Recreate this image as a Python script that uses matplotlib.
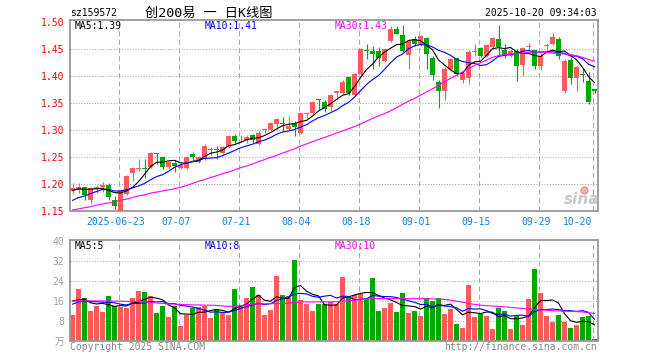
import numpy as np
import pandas as pd
import matplotlib
matplotlib.use('Agg')
import matplotlib.pyplot as plt

plt.rcParams['font.family'] = ['DejaVu Sans Mono', 'Noto Sans CJK SC']

# daily K line, index 0..87 = 2025-06-11 .. 2025-10-20
opens = [1.187, 1.188, 1.194, 1.170, 1.190, 1.194, 1.198, 1.171, 1.150, 1.182,
         1.220, 1.228, 1.230, 1.231, 1.256, 1.250, 1.232, 1.238, 1.230, 1.230,
         1.255, 1.241, 1.247, 1.263, 1.263, 1.258, 1.268, 1.288, 1.284, 1.281,
         1.290, 1.274, 1.299, 1.300, 1.311, 1.313, 1.301, 1.312, 1.294, 1.330,
         1.332, 1.356, 1.351, 1.342, 1.368, 1.369, 1.398, 1.364, 1.403, 1.446,
         1.445, 1.446, 1.428, 1.464, 1.486, 1.476, 1.438, 1.468, 1.457, 1.469,
         1.432, 1.389, 1.372, 1.413, 1.432, 1.393, 1.395, 1.444, 1.452, 1.436,
         1.454, 1.467, 1.448, 1.437, 1.445, 1.419, 1.453, 1.447, 1.418, 1.455,
         1.458, 1.468, 1.372, 1.429, 1.396, 1.403, 1.391, 1.375]
highs = [1.201, 1.201, 1.195, 1.194, 1.198, 1.203, 1.201, 1.177, 1.190, 1.216,
         1.232, 1.246, 1.247, 1.259, 1.257, 1.251, 1.242, 1.245, 1.237, 1.252,
         1.259, 1.251, 1.273, 1.268, 1.270, 1.271, 1.290, 1.292, 1.291, 1.291,
         1.292, 1.297, 1.304, 1.314, 1.321, 1.323, 1.325, 1.317, 1.332, 1.333,
         1.353, 1.357, 1.356, 1.366, 1.372, 1.392, 1.399, 1.405, 1.451, 1.458,
         1.455, 1.454, 1.452, 1.491, 1.492, 1.494, 1.468, 1.474, 1.476, 1.472,
         1.436, 1.393, 1.416, 1.432, 1.435, 1.408, 1.448, 1.458, 1.453, 1.458,
         1.471, 1.494, 1.459, 1.449, 1.450, 1.453, 1.461, 1.448, 1.442, 1.461,
         1.479, 1.471, 1.431, 1.434, 1.419, 1.415, 1.406, 1.376]
lows = [1.183, 1.184, 1.170, 1.163, 1.184, 1.186, 1.170, 1.154, 1.150, 1.180,
        1.205, 1.224, 1.211, 1.230, 1.237, 1.227, 1.227, 1.222, 1.227, 1.227,
        1.243, 1.238, 1.245, 1.254, 1.247, 1.256, 1.267, 1.276, 1.278, 1.276,
        1.276, 1.272, 1.295, 1.299, 1.301, 1.298, 1.300, 1.288, 1.292, 1.321,
        1.330, 1.337, 1.333, 1.335, 1.355, 1.366, 1.365, 1.362, 1.400, 1.430,
        1.413, 1.418, 1.425, 1.463, 1.477, 1.443, 1.413, 1.455, 1.455, 1.413,
        1.392, 1.341, 1.356, 1.408, 1.400, 1.386, 1.385, 1.436, 1.434, 1.434,
        1.452, 1.436, 1.432, 1.435, 1.391, 1.400, 1.447, 1.413, 1.410, 1.444,
        1.456, 1.431, 1.369, 1.384, 1.372, 1.388, 1.348, 1.368]
closes = [1.193, 1.195, 1.180, 1.192, 1.195, 1.198, 1.176, 1.159, 1.188, 1.215,
          1.230, 1.229, 1.228, 1.258, 1.255, 1.232, 1.240, 1.233, 1.235, 1.250,
          1.250, 1.249, 1.270, 1.264, 1.262, 1.268, 1.289, 1.280, 1.285, 1.286,
          1.281, 1.295, 1.300, 1.312, 1.320, 1.311, 1.308, 1.306, 1.331, 1.331,
          1.351, 1.355, 1.339, 1.365, 1.371, 1.389, 1.369, 1.404, 1.450, 1.445,
          1.440, 1.433, 1.450, 1.486, 1.478, 1.446, 1.465, 1.459, 1.474, 1.440,
          1.401, 1.371, 1.413, 1.430, 1.404, 1.405, 1.444, 1.445, 1.436, 1.456,
          1.469, 1.453, 1.437, 1.446, 1.418, 1.451, 1.454, 1.418, 1.437, 1.456,
          1.472, 1.437, 1.427, 1.395, 1.417, 1.402, 1.351, 1.371]
vols = [10.3, 20.7, 17.1, 11.9, 13.9, 11.5, 17.9, 13.9, 13.5, 13.1,
        17.1, 19.9, 19.5, 17.9, 11.1, 13.9, 9.5, 13.9, 5.9, 10.5,
        13.3, 13.7, 14.1, 9.1, 12.7, 11.5, 10.3, 20.7, 14.1, 17.1,
        21.5, 18.3, 10.3, 12.3, 25.9, 18.3, 17.9, 32.3, 16.3, 14.7,
        11.9, 14.7, 14.7, 15.4, 14.9, 25.7, 17.4, 18.4, 18.6, 16.8,
        25.1, 12.0, 13.1, 15.1, 11.5, 19.1, 11.1, 12.0, 10.0, 17.1,
        16.0, 17.1, 10.7, 12.7, 6.7, 5.1, 22.3, 9.6, 10.9, 10.0,
        4.7, 13.1, 12.0, 4.7, 9.8, 6.3, 16.8, 28.7, 19.1, 9.9,
        7.4, 10.5, 7.6, 5.2, 6.5, 9.6, 9.8, 0.9]
# sessions before the window, needed for MA5 / MA10
pre_close = [1.145, 1.148, 1.150, 1.155, 1.160, 1.178, 1.186, 1.190, 1.192]
pre_vol = [12.0, 14.0, 13.0, 15.0, 13.5, 18.0, 16.0, 19.0, 16.2]
# MA30 lines
ma30 = [1.152, 1.154, 1.156, 1.158, 1.161, 1.163, 1.165, 1.167, 1.170,
        1.172, 1.175, 1.178, 1.180, 1.183, 1.185, 1.187, 1.189, 1.191, 1.194,
        1.197, 1.201, 1.205, 1.208, 1.212, 1.215, 1.219, 1.222, 1.226, 1.230,
        1.233, 1.237, 1.241, 1.245, 1.249, 1.253, 1.257, 1.261, 1.265, 1.270,
        1.274, 1.278, 1.282, 1.286, 1.290, 1.294, 1.298, 1.302, 1.306,
        1.311, 1.316, 1.321, 1.326, 1.330, 1.335,
        1.341, 1.347, 1.353, 1.358, 1.364, 1.370,
        1.376, 1.382, 1.389, 1.395, 1.401,
        1.407, 1.413, 1.419, 1.424, 1.429, 1.434,
        1.437, 1.439, 1.440, 1.441, 1.442, 1.443, 1.444,
        1.444, 1.443, 1.442, 1.441, 1.440,
        1.439, 1.437, 1.434, 1.430, 1.427]
vol_ma30 = [15.9, 16.0, 16.0, 16.0, 16.0, 16.0, 16.0, 15.9, 15.9, 15.8, 15.8, 15.7, 15.6,
            15.4, 15.2, 15.0, 14.8, 14.7, 14.6, 14.5, 14.4, 14.4, 14.3, 14.3, 14.2,
            14.0, 13.8, 13.9, 14.1, 14.4, 14.7,
            14.8, 14.8, 14.9, 14.9, 14.9, 15.1, 15.4, 15.6, 15.6, 15.6, 15.6, 15.6, 15.6, 15.7,
            15.9, 16.1, 16.3, 16.5, 16.7, 16.9, 16.9, 16.9, 16.9, 16.9, 16.9, 16.9, 16.9, 16.9,
            16.9, 16.8, 16.7, 16.6, 16.3,
            15.9, 15.5, 15.0, 14.6, 14.3, 14.1, 14.0, 13.8, 13.6, 13.4, 13.2, 13.0, 12.8, 12.6,
            12.4, 12.3, 12.1, 12.0, 11.9, 11.8, 11.7, 11.6, 11.3, 11.0]
date_idx = [8, 18, 28, 38, 48, 58, 68, 78, 87]
date_lbl = ['2025-06-23', '07-07', '07-21', '08-04', '08-18', '09-01', '09-15', '09-29', '10-20']
price_ticks = [1.15, 1.20, 1.25, 1.30, 1.35, 1.40, 1.45, 1.50]
vol_ticks = [0, 8, 16, 24, 32, 40]
vol_tick_lbl = ['万', '8', '16', '24', '32', '40']

RED, GREEN = '#ff5a5a', '#00a800'
GRID = '#aaaaaa'
n = len(closes)
x = np.arange(n)
up = np.array(closes) >= np.array(opens)
colors = np.where(up, RED, GREEN)

c_all = pd.Series(pre_close + closes)
ma5 = c_all.rolling(5).mean().values[9:]
ma10 = c_all.rolling(10).mean().values[9:]
v_all = pd.Series(pre_vol + vols)
vma5 = v_all.rolling(5).mean().values[9:]
vma10 = v_all.rolling(10).mean().values[9:]

W, H = 660, 360
def box(l, t, r, b):
    return [l / W, 1 - b / H, (r - l) / W, (b - t) / H]

fig = plt.figure(figsize=(6.6, 3.6), dpi=100)
ax = fig.add_axes(box(70, 20, 597.5, 211))
axv = fig.add_axes(box(70, 240, 597.5, 341))

for a in (ax, axv):
    a.set_xlim(-0.42, 87.5)
    for s in a.spines.values():
        s.set_color('#999999')
        s.set_linewidth(1.3)
    a.set_xticks([])
    a.tick_params(axis='y', length=0, pad=4, labelsize=7)
    for k in date_idx:
        a.axvline(k - 1 / 3, color=GRID, lw=0.75, ls=(0, (5, 3)), zorder=0)

ax.set_ylim(1.15, 1.503)
ax.set_yticks(price_ticks)
ax.set_yticklabels(['%.2f' % p for p in price_ticks], color='#ff0000')
for p in price_ticks[1:-1]:
    ax.axhline(p, color=GRID, lw=0.75, ls=(0, (1, 1.6)), zorder=0)

axv.set_ylim(0, 40.3)
axv.set_yticks(vol_ticks)
axv.set_yticklabels(vol_tick_lbl, color='#a0a0a0')
for v in vol_ticks[1:-1]:
    axv.axhline(v, color=GRID, lw=0.75, ls=(0, (1, 1.6)), zorder=0)

# candles
body = np.maximum(np.abs(np.array(closes) - np.array(opens)), 0.0018)
bottom = np.minimum(opens, closes)
ax.vlines(x, lows, highs, colors=colors, lw=0.8, zorder=2)
ax.bar(x, body, bottom=bottom, width=0.8, color=colors, lw=0, zorder=3)
ax.plot(x, ma5, color='black', lw=0.8, zorder=4)
ax.plot(x, ma10, color='#0000ff', lw=0.8, zorder=4)
ax.plot(x, ma30, color='#ff00ff', lw=0.8, zorder=4)

axv.bar(x, vols, width=0.8, color=colors, lw=0, zorder=2)
axv.plot(x, vma5, color='black', lw=0.8, zorder=4)
axv.plot(x, vma10, color='#0000ff', lw=0.8, zorder=4)
axv.plot(x, vol_ma30, color='#ff00ff', lw=0.8, zorder=4)

# date labels
for k, lbl in zip(date_idx, date_lbl):
    if k == date_idx[-1]:
        ax.text(k - 0.45, -0.056, lbl, transform=ax.get_xaxis_transform(),
                ha='right', va='center', fontsize=7, color='#0a84d6')
    else:
        ax.text(k - 0.75, -0.056, lbl, transform=ax.get_xaxis_transform(),
                ha='center', va='center', fontsize=7, color='#0a84d6')

def ftext(px, py, s, **kw):
    fig.text(px / W, 1 - py / H, s, va='center', **kw)

ftext(70, 13, 'sz159572', fontsize=7)
ftext(209, 13, '创200易 一 日K线图', fontsize=9.5, ha='center')
ftext(597, 13, '2025-10-20 09:34:03', fontsize=7, ha='right')
ftext(75, 26, 'MA5:1.39', fontsize=7, color='black')
ftext(205, 26, 'MA10:1.41', fontsize=7, color='#0000ff')
ftext(335, 26, 'MA30:1.43', fontsize=7, color='#ff00ff')
ftext(75, 246, 'MA5:5', fontsize=7, color='black')
ftext(205, 246, 'MA10:8', fontsize=7, color='#0000ff')
ftext(335, 246, 'MA30:10', fontsize=7, color='#ff00ff')
ftext(70, 347, 'Copyright 2025 SINA.COM', fontsize=7, color='#888888')
ftext(597, 347, 'http://finance.sina.com.cn', fontsize=7, color='#888888', ha='right')

# sina watermark
ftext(582, 200, 'sina', fontsize=11, color='#c8c8c8', ha='center',
      style='italic', weight='bold', family='DejaVu Sans')
fig.add_artist(plt.Line2D([584 / W], [1 - 190 / H], marker='o', ms=5,
                          mfc='#f6b0b0', mec='#ee8080', mew=0.8))

fig.savefig('out.png', dpi=100)
